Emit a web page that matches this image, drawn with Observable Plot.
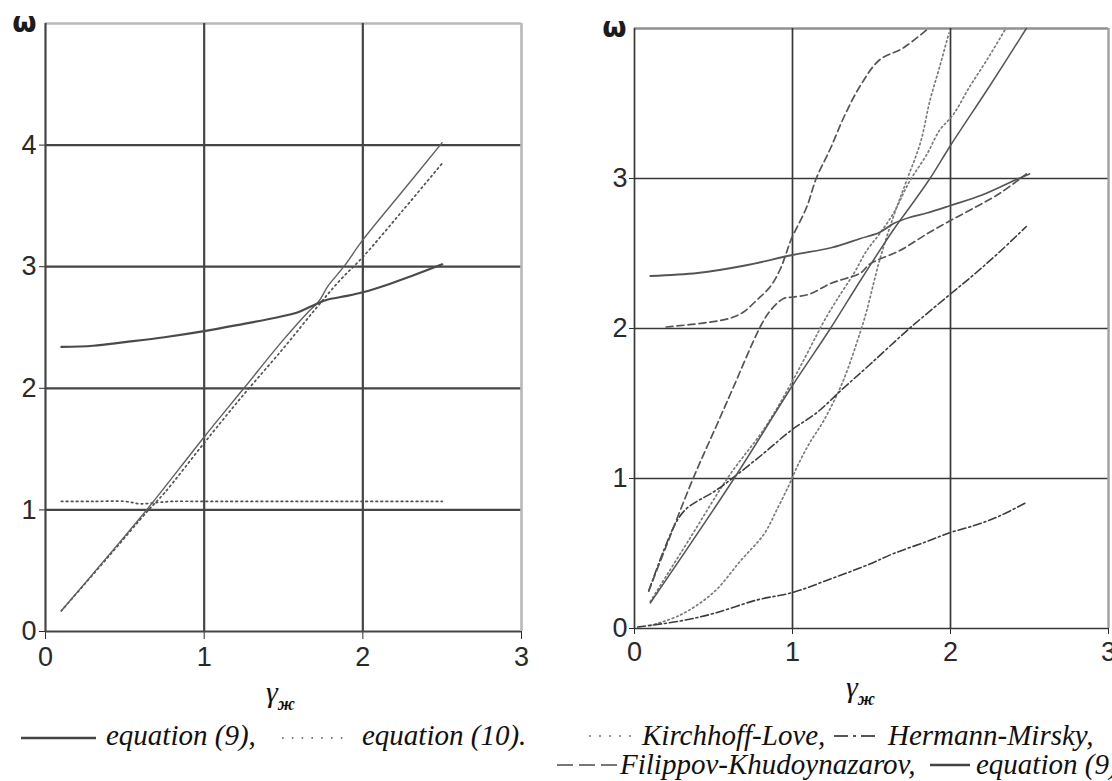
<!DOCTYPE html>
<html><head><meta charset="utf-8">
<script src="https://cdn.jsdelivr.net/npm/d3@7"></script>
<script src="https://cdn.jsdelivr.net/npm/@observablehq/plot@0.6"></script>
<style>
html,body{margin:0;padding:0;background:#fff;}
#wrap{position:relative;width:1112px;height:781px;overflow:hidden;background:#fff;}
.panel{position:absolute;top:0;width:556px;}
#overlay{position:absolute;left:0;top:0;}
</style></head><body><div id="wrap"><div id="pl" class="panel" style="left:0"></div><div id="pr" class="panel" style="left:556px"></div></div>
<script>
// ---- ticks ----
const xTicks = [0, 1, 2, 3];
const yTicksLeft = [0, 1, 2, 3, 4];
const yTicksRight = [0, 1, 2, 3];
const yAxisSymbol = "ω";
const xAxisSymbol = "γ";
const xAxisSub = "ж";

// ---- left panel: equation (9) (two branches) and equation (10) (two branches) ----
const eq9LeftFlatX = [0.1, 0.3, 0.5, 0.75, 1.0, 1.25, 1.45, 1.6, 1.7, 1.78, 1.9, 2.0, 2.15, 2.3, 2.5];
const eq9LeftFlatY = [2.34, 2.35, 2.38, 2.42, 2.47, 2.53, 2.58, 2.63, 2.69, 2.73, 2.76, 2.79, 2.85, 2.92, 3.02];
const eq9LeftSteepX = [0.1, 0.4, 0.65, 1.0, 1.25, 1.5, 1.65, 1.72, 1.78, 1.88, 2.0, 2.25, 2.5];
const eq9LeftSteepY = [0.17, 0.63, 1.02, 1.6, 2.0, 2.4, 2.62, 2.71, 2.84, 3.0, 3.22, 3.62, 4.02];
const eq10LeftSteepX = [0.1, 0.4, 0.65, 0.75, 1.0, 1.25, 1.5, 1.7, 1.85, 2.0, 2.25, 2.5];
const eq10LeftSteepY = [0.17, 0.62, 1.0, 1.14, 1.55, 1.95, 2.33, 2.65, 2.88, 3.08, 3.46, 3.85];
const eq10LeftFlatX = [0.1, 0.3, 0.5, 0.6, 0.7, 0.8, 1.0, 1.5, 2.0, 2.5];
const eq10LeftFlatY = [1.07, 1.07, 1.07, 1.05, 1.06, 1.07, 1.07, 1.07, 1.07, 1.07];

// ---- right panel ----
const eq9RightFlatX = [0.1, 0.4, 0.7, 1.0, 1.25, 1.43, 1.55, 1.64, 1.74, 1.85, 2.0, 2.2, 2.41, 2.5];
const eq9RightFlatY = [2.35, 2.37, 2.42, 2.49, 2.54, 2.6, 2.64, 2.7, 2.74, 2.77, 2.82, 2.89, 2.99, 3.03];
const eq9RightSteepX = [0.1, 0.63, 1.0, 1.24, 1.43, 1.64, 1.75, 1.87, 2.0, 2.25, 2.48];
const eq9RightSteepY = [0.17, 1.0, 1.62, 2.0, 2.32, 2.66, 2.82, 3.0, 3.22, 3.62, 4.0];
const klAX = [0.1, 0.35, 0.6, 0.82, 1.0, 1.15, 1.2, 1.28, 1.39, 1.47, 1.55, 1.64, 1.74, 1.85, 1.93, 2.02, 2.12, 2.23, 2.35];
const klAY = [0.18, 0.6, 1.02, 1.33, 1.65, 1.95, 2.05, 2.19, 2.37, 2.52, 2.63, 2.77, 2.98, 3.16, 3.32, 3.43, 3.61, 3.79, 4.0];
const klBX = [0.1, 0.29, 0.5, 0.67, 0.82, 0.9, 0.975, 1.03, 1.11, 1.2, 1.32, 1.43, 1.47, 1.55, 1.64, 1.72, 1.81, 1.87, 1.93, 1.99];
const klBY = [0.02, 0.09, 0.24, 0.45, 0.63, 0.79, 0.95, 1.08, 1.24, 1.39, 1.65, 1.98, 2.12, 2.45, 2.75, 2.98, 3.24, 3.52, 3.74, 3.97];
const hmAX = [0.09, 0.185, 0.27, 0.33, 0.4, 0.5, 0.63, 0.82, 0.99, 1.155, 1.32, 1.49, 1.74, 2.0, 2.16, 2.31, 2.48];
const hmAY = [0.25, 0.52, 0.72, 0.8, 0.85, 0.91, 1.01, 1.17, 1.32, 1.44, 1.6, 1.76, 2.0, 2.23, 2.37, 2.51, 2.68];
const hmBX = [0.02, 0.29, 0.5, 0.775, 1.0, 1.24, 1.49, 1.64, 1.85, 2.0, 2.16, 2.31, 2.48];
const hmBY = [0.01, 0.05, 0.1, 0.19, 0.24, 0.33, 0.43, 0.5, 0.58, 0.64, 0.69, 0.75, 0.84];
const fkAX = [0.09, 0.19, 0.375, 0.52, 0.61, 0.8, 0.86, 0.944, 1.006, 1.11, 1.24, 1.43, 1.49, 1.68, 1.85, 2.0, 2.16, 2.31, 2.48];
const fkAY = [0.25, 0.52, 1.01, 1.355, 1.57, 2.02, 2.12, 2.2, 2.21, 2.23, 2.3, 2.37, 2.43, 2.52, 2.63, 2.72, 2.81, 2.9, 3.03];
const fkBX = [0.2, 0.46, 0.61, 0.69, 0.775, 0.86, 0.92, 0.96, 0.99, 1.09, 1.15, 1.24, 1.33, 1.43, 1.55, 1.7, 1.86];
const fkBY = [2.01, 2.04, 2.07, 2.11, 2.19, 2.28, 2.39, 2.5, 2.59, 2.81, 3.0, 3.2, 3.42, 3.62, 3.79, 3.87, 4.0];

// ---- legends ----
const legendLeft = ["equation (9),", "equation (10)."];
const legendRight = ["Kirchhoff-Love,", "Hermann-Mirsky,", "Filippov-Khudoynazarov,", "equation (9)."];

const rows = (xs, ys) => xs.map((x, i) => ({x, y: ys[i]}));
const curve = "catmull-rom";
const tickFont = "'Liberation Sans', Arial, sans-serif";

const STY = {
  solidBold: {stroke: "#4a4a4a", strokeWidth: 2.2},
  solidThin: {stroke: "#606060", strokeWidth: 1.4},
  dotted10: {stroke: "#505050", strokeWidth: 1.7, strokeDasharray: "1.6,3.4"},
  kl: {stroke: "#7a7a7a", strokeWidth: 1.7, strokeDasharray: "1.6,3"},
  hm: {stroke: "#3c3c3c", strokeWidth: 1.6, strokeDasharray: "8,3,2,3"},
  fk: {stroke: "#555", strokeWidth: 1.7, strokeDasharray: "7,4"}
};

function line(xs, ys, st) {
  return Plot.line(rows(xs, ys), {x: "x", y: "y", curve, ...st});
}

const left = Plot.plot({
  width: 556, height: 680,
  marginLeft: 45, marginRight: 35, marginTop: 23, marginBottom: 49,
  style: {fontFamily: tickFont, fontSize: "27px", color: "#2a2a2a", background: "white", overflow: "visible"},
  x: {domain: [0, 3], ticks: xTicks, tickSize: 8, tickPadding: 7, tickFormat: d => String(d), label: null},
  y: {domain: [0, 5], ticks: yTicksLeft, tickSize: 6, tickPadding: 3, tickFormat: d => String(d), label: null},
  marks: [
    Plot.ruleY(yTicksLeft, {stroke: "#454545", strokeWidth: 2.2}),
    Plot.ruleY([5], {stroke: "#b8b8b8", strokeWidth: 2.6}),
    Plot.ruleX(xTicks.slice(0, 3), {stroke: "#454545", strokeWidth: 2.2}),
    Plot.ruleX([3], {stroke: "#b8b8b8", strokeWidth: 2.6}),
    line(eq10LeftFlatX, eq10LeftFlatY, STY.dotted10),
    line(eq10LeftSteepX, eq10LeftSteepY, STY.dotted10),
    line(eq9LeftSteepX, eq9LeftSteepY, STY.solidThin),
    line(eq9LeftFlatX, eq9LeftFlatY, STY.solidBold),
    Plot.text([yAxisSymbol], {text: d => d, frameAnchor: "top-left", dx: -9, textAnchor: "end", lineAnchor: "middle", fontFamily: "'DejaVu Sans', sans-serif", fontWeight: "bold", fontSize: 28, fill: "#1c1c1c"})
  ]
});
document.getElementById("pl").appendChild(left);

const right = Plot.plot({
  width: 556, height: 676,
  marginLeft: 78, marginRight: 4, marginTop: 28, marginBottom: 48,
  style: {fontFamily: tickFont, fontSize: "27px", color: "#2a2a2a", background: "white", overflow: "visible"},
  x: {domain: [0, 3], ticks: xTicks, tickSize: 6, tickPadding: 7, tickFormat: d => String(d), label: null},
  y: {domain: [0, 4], ticks: yTicksRight, tickSize: 5, tickPadding: 2, tickFormat: d => String(d), label: null},
  marks: [
    Plot.ruleY(yTicksRight, {stroke: "#383838", strokeWidth: 1.7}),
    Plot.ruleY([4], {stroke: "#909090", strokeWidth: 2.4}),
    Plot.ruleX(xTicks.slice(0, 3), {stroke: "#383838", strokeWidth: 1.7}),
    Plot.ruleX([3], {stroke: "#a0a0a0", strokeWidth: 2.4}),
    line(klAX, klAY, STY.kl),
    line(klBX, klBY, STY.kl),
    line(hmBX, hmBY, STY.hm),
    line(hmAX, hmAY, STY.hm),
    line(fkAX, fkAY, STY.fk),
    line(fkBX, fkBY, STY.fk),
    line(eq9RightSteepX, eq9RightSteepY, {stroke: "#555", strokeWidth: 1.5}),
    line(eq9RightFlatX, eq9RightFlatY, {stroke: "#555", strokeWidth: 1.8}),
    Plot.text([yAxisSymbol], {text: d => d, frameAnchor: "top-left", dx: -8, textAnchor: "end", lineAnchor: "middle", fontFamily: "'DejaVu Sans', sans-serif", fontWeight: "bold", fontSize: 28, fill: "#1c1c1c"})
  ]
});
document.getElementById("pr").appendChild(right);

// ---- overlay: axis titles and legends ----
const ov = d3.select("#wrap").append("svg").attr("id", "overlay").attr("width", 1112).attr("height", 781)
  .style("pointer-events", "none");
const serif = "'Liberation Serif', 'Times New Roman', serif";
function axTitle(x, y) {
  const t = ov.append("text").attr("x", x).attr("y", y).attr("font-family", serif).attr("font-style", "italic").attr("fill", "#111");
  t.append("tspan").attr("font-size", 30).text(xAxisSymbol);
  t.append("tspan").attr("font-size", 18).attr("font-weight", "bold").attr("dy", 8).text(xAxisSub);
}
axTitle(266, 702);
axTitle(846, 697);

function sample(x1, x2, y, st) {
  ov.append("line").attr("x1", x1).attr("x2", x2).attr("y1", y).attr("y2", y)
    .attr("stroke", st.stroke).attr("stroke-width", st.strokeWidth)
    .attr("stroke-dasharray", st.strokeDasharray || null);
}
function legText(x, y, s) {
  ov.append("text").attr("x", x).attr("y", y).attr("font-family", serif).attr("font-style", "italic")
    .attr("font-size", 29).attr("fill", "#111").text(s);
}
// left legend
sample(21, 96, 738, {stroke: "#444", strokeWidth: 2.4});
legText(106, 745, legendLeft[0]);
sample(282, 350, 738, {stroke: "#555", strokeWidth: 1.6, strokeDasharray: "1.6,8.2"});
legText(362, 745, legendLeft[1]);
// right legend, row 1
sample(589, 637, 736, {stroke: "#999", strokeWidth: 1.8, strokeDasharray: "2,8"});
legText(642, 745, legendRight[0]);
sample(834, 880, 736, {stroke: "#555", strokeWidth: 1.8, strokeDasharray: "14,5,3,5,14,20"});
legText(888, 745, legendRight[1]);
// right legend, row 2
sample(557, 617, 765, {stroke: "#777", strokeWidth: 1.8, strokeDasharray: "16,6"});
legText(620, 774, legendRight[2]);
sample(930, 970, 765, {stroke: "#444", strokeWidth: 2.4});
legText(976, 774, legendRight[3]);
</script></body></html>
